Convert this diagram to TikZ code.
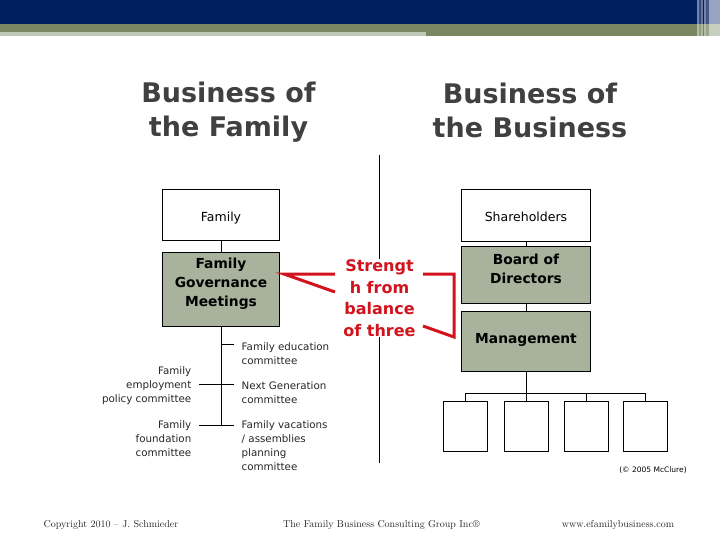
\documentclass[tikz,border=0pt]{standalone}
\usepackage{fontspec}
\setsansfont{DejaVu Sans}
\usetikzlibrary{positioning}
\definecolor{bannerblue}{RGB}{0,31,95}
\definecolor{bannergreen}{RGB}{122,135,99}
\definecolor{bannerlight}{RGB}{192,200,184}
\definecolor{boxgray}{RGB}{169,178,157}
\definecolor{titlegray}{RGB}{64,64,64}
\definecolor{strengthred}{RGB}{210,18,28}
\tikzset{
  title text/.style={font=\sffamily\bfseries\fontsize{27}{34}\selectfont, text=titlegray, align=center},
  plain box/.style={draw=black, line width=0.9pt, inner sep=0pt, align=center, font=\sffamily\fontsize{12.5}{15}\selectfont},
  gov box/.style={plain box, fill=boxgray, font=\sffamily\bfseries\fontsize{13.8}{19}\selectfont},
  unit box/.style={draw=black, line width=0.9pt, minimum width=44pt, minimum height=50pt, inner sep=0pt},
  committee/.style={font=\sffamily\fontsize{10.3}{14}\selectfont, text=black!85, inner xsep=7.5pt, inner ysep=1pt},
  link/.style={draw=black, line width=0.9pt},
  balance line/.style={draw=strengthred, line width=3pt, line join=miter},
  footer/.style={font=\rmfamily\fontsize{10}{12}\selectfont, text=black!85},
}

\begin{document}
\begin{tikzpicture}[x=1pt,y=-1pt]
\useasboundingbox (0,0) rectangle (720,540);
%the banner
\fill[bannerblue] (0,0) rectangle (720,24);
\fill[bannergreen] (0,24) rectangle (720,36);
\fill[bannerlight] (0,32) rectangle (426,36);
\fill[white,opacity=.45] (697,0) rectangle (698.5,36);
\fill[white,opacity=.2] (698.5,0) rectangle (701,36);
\fill[white,opacity=.4] (701,0) rectangle (703,36);
\fill[white,opacity=.45] (704,0) rectangle (706,36);
\fill[white,opacity=.25] (706,0) rectangle (709,36);
\fill[white,opacity=.6] (709,0) rectangle (720,36);

%the titles
\node[title text] (famtitle) at (228.5,112) {Business of\\the Family};
\node[title text] (bustitle) at (530,110) {Business of\\the Business};

%the family side
\node[plain box, minimum width=117pt, minimum height=51pt, text height=17pt] (fam) at (221,214.5) {Family};
\node[gov box, minimum width=117pt, minimum height=74pt, text depth=13pt] (gov) at (221,289) {Family\\Governance\\Meetings};
\coordinate (b1) at (221,344);
\coordinate (b2) at (221,384);
\coordinate (b3) at (221,425);
\node[committee, anchor=north west, align=left] (edu) at (234,341) {Family education\\committee};
\node[committee, anchor=north west, align=left] (nextgen) at (234,380) {Next Generation\\committee};
\node[committee, anchor=north west, align=left] (vac) at (234,419) {Family vacations\\/ assemblies\\planning\\committee};
\node[committee, anchor=north east, align=right] (emp) at (199,365) {Family\\employment\\policy committee};
\node[committee, anchor=north east, align=right] (fnd) at (199,419) {Family\\foundation\\committee};

%the business side
\node[plain box, minimum width=129pt, minimum height=52pt, text height=13.5pt] (share) at (526,215) {Shareholders};
\node[gov box, minimum width=129pt, minimum height=57pt, text depth=11pt] (board) at (526,274.5) {Board of\\Directors};
\node[gov box, minimum width=129pt, minimum height=60pt, text depth=5pt] (mgmt) at (526,341) {Management};
\foreach \x [count=\i] in {465,526,586.5,645}
  \node[unit box] (unit\i) at (\x,426) {};
\coordinate (bar) at (526,393);

%the divider
\coordinate (divtop) at (379.5,155);
\coordinate (divbot) at (379.5,463);
\draw[link] (divtop) -- (divbot);
\node[fill=white, text=strengthred, font=\sffamily\bfseries\fontsize{16}{21.5}\selectfont, align=center, inner sep=1pt] (strength) at (379.5,298) {Strengt\\h from\\balance\\of three};

%drawings of links
\draw[link] (fam.south) -- (gov.north);
\draw[link] (gov.south) -- (b3);
\draw[link] (b1) -- (b1 -| edu.west);
\draw[link] (b2 -| emp.east) -- (b2 -| nextgen.west);
\draw[link] (b3 -| fnd.east) -- (b3 -| vac.west);
\draw[link] (share.south) -- (board.north);
\draw[link] (board.south) -- (mgmt.north);
\draw[link] (mgmt.south) -- (bar);
\draw[link] (unit1.north) -- (unit1.north |- bar) -- (unit4.north |- bar) -- (unit4.north);
\draw[link] (unit2.north) -- (unit2.north |- bar);
\draw[link] (unit3.north) -- (unit3.north |- bar);

%the red balance marks
\coordinate (la) at (335,274);
\coordinate (lb) at (335,292);
\draw[balance line] (la) -- ([xshift=4pt]gov.east |- la) -- (lb);
\coordinate (ra) at (423,274);
\coordinate (rb) at (423,326);
\coordinate (rc) at (454,337);
\draw[balance line] (ra) -- (rc |- ra) -- (rc) -- (rb);

%the credits
\node[font=\sffamily\fontsize{7.5}{9}\selectfont] (mcclure) at (653,470) {(© 2005 McClure)};
\node[footer] (copy) at (111,525) {Copyright 2010 – J. Schmieder};
\node[footer] (tfbcg) at (381.5,525) {The Family Business Consulting Group Inc®};
\node[footer] (web) at (618,525) {www.efamilybusiness.com};
\end{tikzpicture}
\end{document}
